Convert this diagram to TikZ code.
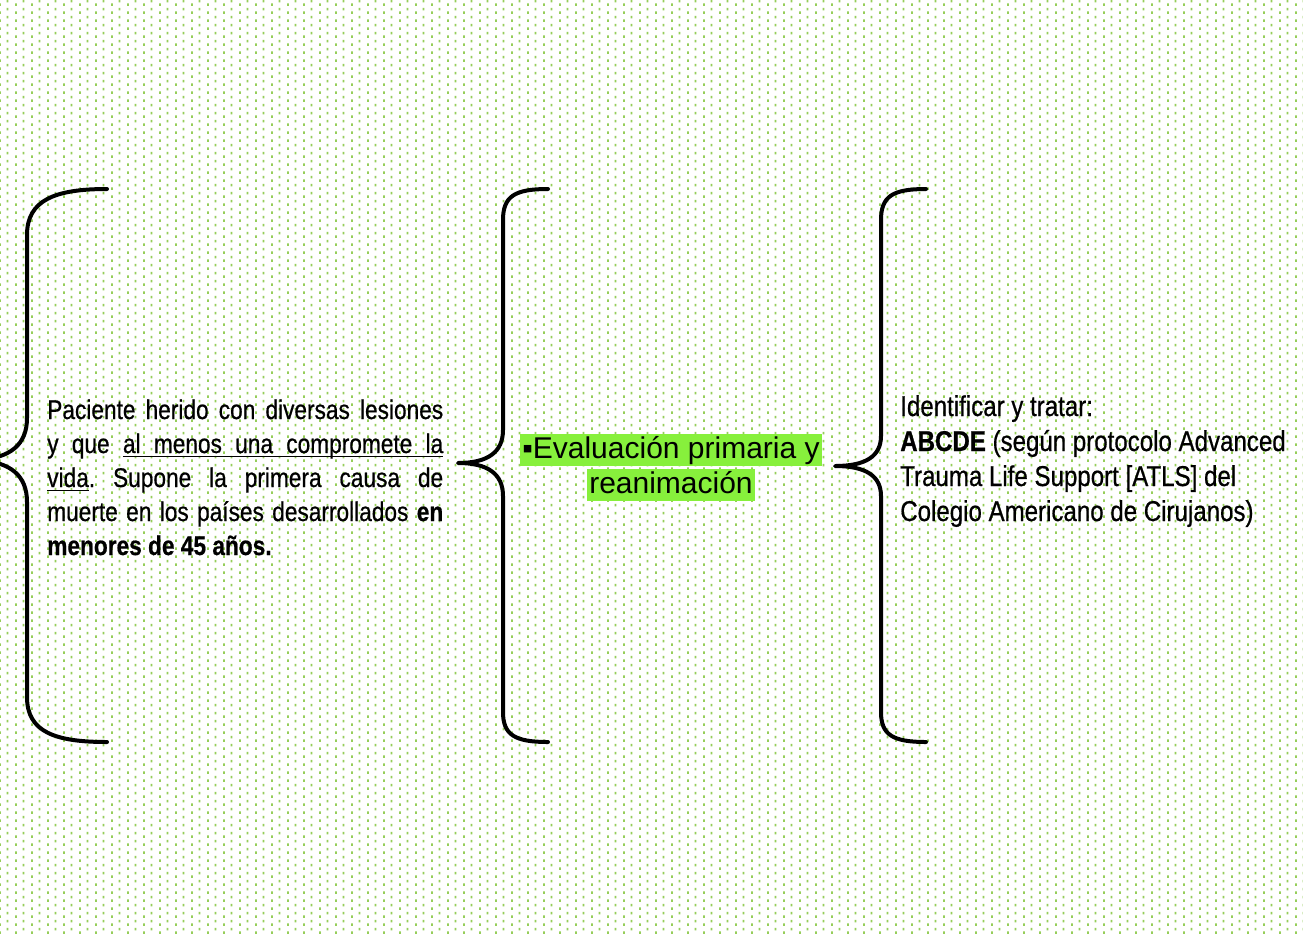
\documentclass[tikz,border=0pt]{standalone}
\usepackage{fontspec}
\setmainfont{Liberation Sans}
\newfontfamily\narrowfont[FakeStretch=0.84,FakeBold=0.6]{Liberation Sans}
\usetikzlibrary{patterns}
\definecolor{dotgreen}{RGB}{150,206,90}
\definecolor{hlgreen}{RGB}{135,240,60}
\pgfdeclarepatternformonly{greendots}{\pgfpointorigin}{\pgfpoint{12pt}{6pt}}{\pgfpoint{12pt}{6pt}}{%
  \pgfpathrectangle{\pgfpoint{0pt}{0pt}}{\pgfpoint{1.5pt}{2.25pt}}%
  \pgfpathrectangle{\pgfpoint{6pt}{3pt}}{\pgfpoint{1.5pt}{2.25pt}}%
  \pgfusepath{fill}}
\newcommand\ulw[1]{\setbox0\hbox{#1}\rlap{\vrule height -1.9pt depth 3pt width \wd0}\box0}
\newcommand\ulsp{\leaders\hrule height -1.9pt depth 3pt\hskip\fontdimen2\font plus\fontdimen3\font minus\fontdimen4\font\relax}
\frenchspacing
\begin{document}
\begin{tikzpicture}[x=0.75pt,y=-0.75pt,
  bracestyle/.style={line width=3pt, line cap=round, line join=round, draw=black},
  lefttext/.style={anchor=base west, inner sep=0pt, text width=297pt, align=justify,
    font=\narrowfont\fontsize{20.25}{25.5}\selectfont},
  righttext/.style={anchor=base west, inner sep=0pt, text width=300pt, align=left,
    font=\narrowfont\fontsize{21.5}{26.25}\selectfont},
  hlbox/.style={anchor=base west, fill=hlgreen, inner xsep=1.5pt, inner ysep=0pt,
    text height=18pt, text depth=6pt, font=\fontsize{22.5}{26}\selectfont}
]
\useasboundingbox (0,0) rectangle (1303,933);
\clip (0,0) rectangle (1303,933);
\fill[white] (0,0) rectangle (1303,933);
\fill[pattern=greendots, pattern color=dotgreen] (0,0) rectangle (1303,933);

% braces
\draw[bracestyle] (107,189) .. controls (55,189) and (27,200) .. (27,235) -- (27,418)
  .. controls (27,445) and (10,458) .. (-22,460)
  .. controls (10,462) and (27,475) .. (27,502) -- (27,697)
  .. controls (27,732) and (55,742) .. (107,742);
\draw[bracestyle] (548,189) .. controls (515,189) and (503,196) .. (503,220) -- (503,430)
  .. controls (503,452) and (488,463) .. (458,463)
  .. controls (488,463) and (503,474) .. (503,496) -- (503,712)
  .. controls (503,735) and (515,742) .. (548,742);
\draw[bracestyle] (926,189) .. controls (893,189) and (881,196) .. (881,220) -- (881,436)
  .. controls (881,456) and (866,466) .. (835,466)
  .. controls (866,466) and (881,476) .. (881,496) -- (881,712)
  .. controls (881,735) and (893,742) .. (926,742);

% left text
\node[lefttext] (left) at (47,419) {Paciente herido con diversas lesiones\linebreak
y que \ulw{al}\ulsp\ulw{menos}\ulsp\ulw{una}\ulsp\ulw{compromete}\ulsp\ulw{la}\linebreak
\ulw{vida}. Supone la primera causa de\linebreak
muerte en los países desarrollados \textbf{en}\linebreak
\textbf{menores de 45 años.}};

% middle text
\node[hlbox] (mid1) at (520,458) {▪Evaluación primaria y};
\node[hlbox] (mid2) at (587,493) {reanimación};

% right text
\node[righttext] (right) at (900,416) {\spaceskip=0pt\xspaceskip=0pt\relax Identificar y tratar:\\
\textbf{ABCDE} (según protocolo Advanced\\
Trauma Life Support [ATLS] del\\
Colegio Americano de Cirujanos)};
\end{tikzpicture}
\end{document}
